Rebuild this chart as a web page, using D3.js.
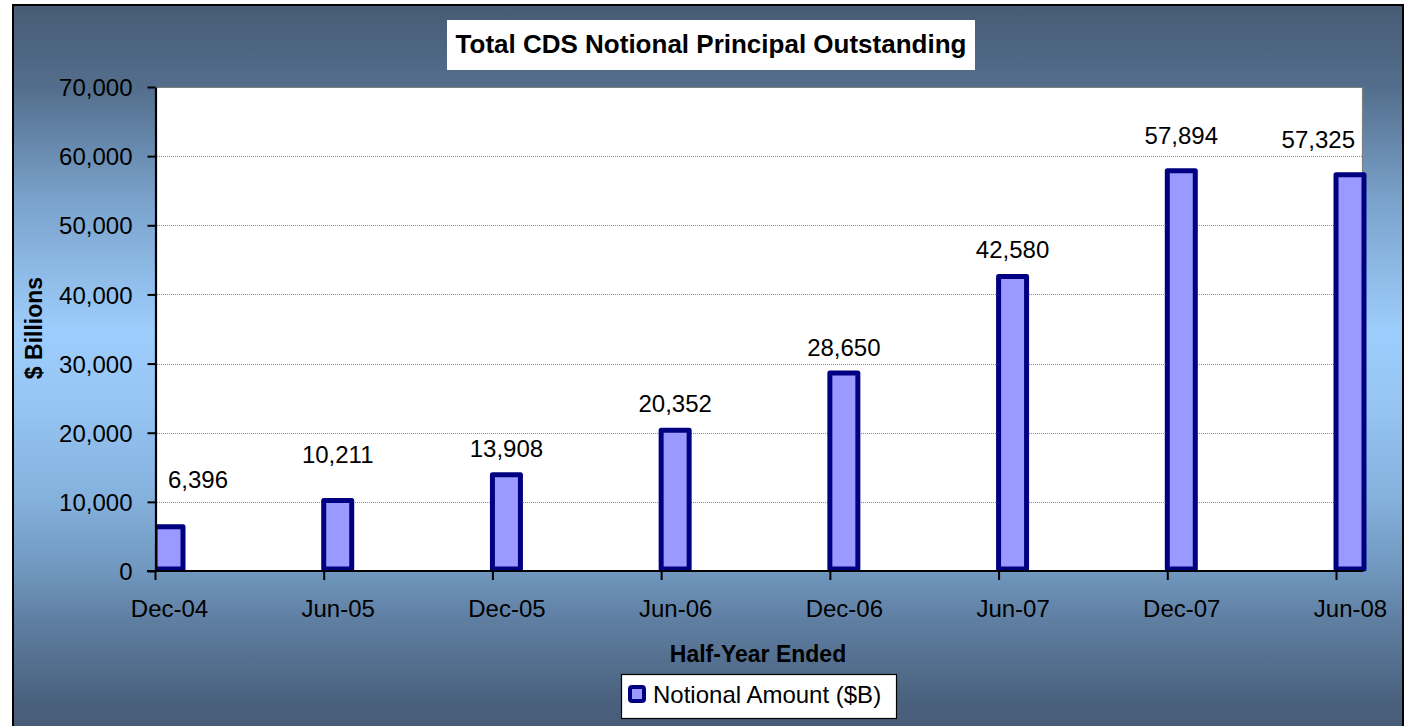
<!DOCTYPE html>
<html><head><meta charset="utf-8">
<script src="https://cdn.jsdelivr.net/npm/d3@7"></script>
<style>body{margin:0;background:#fff}svg{display:block;font-family:"Liberation Sans",Arial,sans-serif}</style>
</head><body><svg id="c" width="1408" height="726"></svg>
<script>
const categories = ["Dec-04","Jun-05","Dec-05","Jun-06","Dec-06","Jun-07","Dec-07","Jun-08"];
const values = [6396,10211,13908,20352,28650,42580,57894,57325];
const yTicks = [0,10000,20000,30000,40000,50000,60000,70000];
const seriesName = "Notional Amount ($B)";
const chartTitle = "Total CDS Notional Principal Outstanding";
const xTitle = "Half-Year Ended";
const yTitle = "$ Billions";

const svg = d3.select("#c");
const L = 155, R = 1363, T = 87, B = 571;
const x = d3.scalePoint().domain(categories).range([L, 1336]);
const y = d3.scaleLinear().domain([0, 70000]).range([B, T]);
const barW = 28, barOff = 14;
const fmt = d3.format(",");

// background gradient
const defs = svg.append("defs");
const g = defs.append("linearGradient").attr("id","bg").attr("gradientUnits","userSpaceOnUse")
  .attr("x1",0).attr("y1",5).attr("x2",0).attr("y2",730);
[[0,"#475b75"],[0.113,"#536e8c"],[0.269,"#7aa2cb"],[0.448,"#9dcdfc"],[0.545,"#97c6f5"],
 [0.683,"#84b0dc"],[0.781,"#7097be"],[0.848,"#5f7fa2"],[0.96,"#4a617e"],[1,"#475c78"]]
 .forEach(([o,c]) => g.append("stop").attr("offset",o).attr("stop-color",c));
defs.append("clipPath").attr("id","clipL").append("rect")
  .attr("x",L).attr("y",0).attr("width",1408-L).attr("height",726);

svg.append("rect").attr("x",13).attr("y",5).attr("width",1390).attr("height",760)
  .attr("fill","url(#bg)").attr("stroke","#000").attr("stroke-width",2);

// plot area
svg.append("rect").attr("x",L).attr("y",T).attr("width",R-L).attr("height",B-T).attr("fill","#fff");
// gridlines
svg.append("g").selectAll("line").data(yTicks.filter(d => d > 0 && d < 70000)).join("line")
  .attr("x1",L).attr("x2",R).attr("y1",d => Math.round(y(d))+0.5).attr("y2",d => Math.round(y(d))+0.5)
  .attr("stroke","#8a8a8a").attr("stroke-width",1).attr("stroke-dasharray","1,1");
// plot border top/right
svg.append("path").attr("d",`M${L},${T+0.5}H${R-0.5}V${B}`).attr("fill","none")
  .attr("stroke","#808080").attr("stroke-width",1.2);

// bars
svg.append("g").attr("clip-path","url(#clipL)").selectAll("rect").data(values).join("rect")
  .attr("x",(d,i) => x(categories[i]))
  .attr("y",d => y(d))
  .attr("width",barW)
  .attr("height",d => y(0) - y(d) - 2)
  .attr("fill","#9999ff").attr("stroke","#000080").attr("stroke-width",5)
  .attr("stroke-linejoin","round");

// y axis
const ya = svg.append("g").attr("transform",`translate(${L+0.5},0)`)
  .call(d3.axisLeft(y).tickValues(yTicks).tickFormat(fmt).tickSize(8).tickSizeOuter(0).tickPadding(15));
ya.select(".domain").attr("stroke","#000").attr("stroke-width",2.2);
ya.selectAll(".tick line").attr("stroke","#000").attr("stroke-width",2);
ya.selectAll(".tick text").attr("font-size",24).attr("fill","#000")
  .attr("font-family",'"Liberation Sans",Arial,sans-serif').attr("dy","0.36em");

// x axis
const xa = svg.append("g").attr("transform",`translate(0,${B})`)
  .call(d3.axisBottom(x).tickSize(9).tickSizeOuter(0));
xa.select(".domain").remove();
xa.append("line").attr("x1",L-8).attr("x2",R).attr("y1",0).attr("y2",0).attr("stroke","#000").attr("stroke-width",2.2);
xa.selectAll(".tick line").attr("stroke","#000").attr("stroke-width",2);
xa.selectAll(".tick text").attr("font-size",24).attr("fill","#000")
  .attr("font-family",'"Liberation Sans",Arial,sans-serif')
  .attr("x",barOff).attr("dy",null).attr("y",46);

// data labels
const labelLift = [39,37,18,18,17,19,27,27];
const lbl = svg.append("g").selectAll("text").data(values).join("text")
  .attr("font-size",24).attr("text-anchor","middle").attr("fill","#000")
  .text(d => fmt(d));
lbl.each(function(d,i){
  const w = this.getComputedTextLength();
  let cx = x(categories[i]) + barOff;
  cx = Math.max(cx, L + 13 + w/2);
  cx = Math.min(cx, R - 8 - w/2);
  d3.select(this).attr("x",cx).attr("y",y(d) - labelLift[i]);
});

// title
svg.append("rect").attr("x",447).attr("y",20).attr("width",528).attr("height",50).attr("fill","#fff");
svg.append("text").attr("x",711).attr("y",53).attr("text-anchor","middle")
  .attr("font-size",26).attr("font-weight","bold").text(chartTitle);

// axis titles
svg.append("text").attr("x",758).attr("y",662).attr("text-anchor","middle")
  .attr("font-size",23).attr("font-weight","bold").text(xTitle);
svg.append("text").attr("transform","translate(42,328) rotate(-90)").attr("text-anchor","middle")
  .attr("font-size",23).attr("font-weight","bold").text(yTitle);

// legend
const lg = svg.append("g");
lg.append("rect").attr("x",621.5).attr("y",674.5).attr("width",275).attr("height",44)
  .attr("fill","#fff").attr("stroke","#000").attr("stroke-width",1.2);
lg.append("rect").attr("x",630).attr("y",687).attr("width",14).attr("height",14)
  .attr("fill","#9999ff").attr("stroke","#000080").attr("stroke-width",4).attr("rx",2);
lg.append("text").attr("x",653).attr("y",703).attr("font-size",24).text(seriesName);
</script></body></html>
